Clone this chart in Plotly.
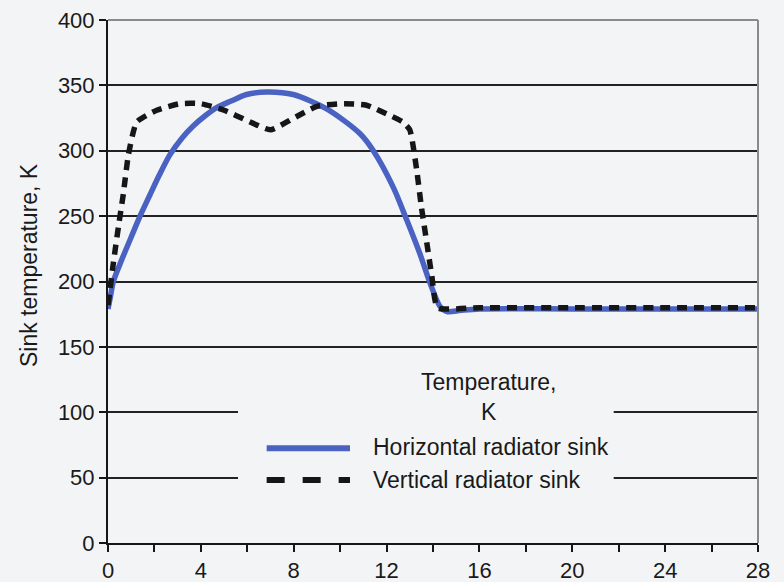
import plotly.graph_objects as go

# Data
horiz_x = [0, 0.1, 0.23, 0.6, 1.0, 1.38, 1.8, 2.2, 2.67, 3.2, 3.67, 4.2, 4.68, 5.3, 5.97, 6.84, 7.98, 9.42, 10.86, 11.43, 12.29, 12.87, 13.44, 13.87, 14.3, 14.6, 15.2, 16, 20, 24, 28]
horiz_y = [179, 188, 200, 217, 234, 250, 266, 281, 297, 310, 319, 327, 333, 338, 343, 345, 343, 332, 313, 300, 272, 247, 221, 199, 181, 177, 178, 179, 179, 179, 179]

vert_x = [0, 0.23, 0.45, 0.66, 0.88, 1.24, 2.1, 3.1, 4.0, 5.0, 6.0, 7.0, 8.0, 9.0, 10.1, 11.1, 12.15, 12.7, 13.0, 13.3, 13.5, 13.73, 13.95, 14.2, 16, 20, 24, 28]
vert_y = [182, 214, 242, 267, 297, 322, 331, 336, 336, 331, 323, 316, 325, 334, 336, 335, 327, 322, 316, 285, 257, 230, 204, 180, 180, 180, 180, 180]

x_ticks = [0, 4, 8, 12, 16, 20, 24, 28]
y_ticks = [0, 50, 100, 150, 200, 250, 300, 350, 400]

series_names = ["Horizontal radiator sink", "Vertical radiator sink"]
legend_title = ["Temperature,", "K"]
y_title = "Sink temperature, K"

BLUE = "#4a62c2"
BLACK = "#161616"
BG = "#f3f4f6"
TXT = "#1a1a1a"
FONT = "Arial, Liberation Sans, sans-serif"

fig = go.Figure()
fig.add_trace(go.Scatter(x=horiz_x, y=horiz_y, mode="lines", name=series_names[0],
                         line=dict(color=BLUE, width=5.5, shape="spline", smoothing=0.8)))
fig.add_trace(go.Scatter(x=vert_x, y=vert_y, mode="lines", name=series_names[1],
                         line=dict(color=BLACK, width=5.5, dash="10px,7px", shape="spline", smoothing=0.5)))

shapes = [
    # legend background masking gridlines
    dict(type="rect", xref="paper", yref="paper", x0=0.2, x1=0.778, y0=0.08, y1=0.345,
         fillcolor=BG, line=dict(width=0), layer="above"),
    # legend samples
    dict(type="line", xref="paper", yref="paper", x0=0.2441, x1=0.3723, y0=0.181, y1=0.181,
         line=dict(color=BLUE, width=6), layer="above"),
    dict(type="line", xref="paper", yref="paper", x0=0.2441, x1=0.3723, y0=0.1205, y1=0.1205,
         line=dict(color=BLACK, width=6, dash="18px,18px"), layer="above"),
    # grey frame top/right
    dict(type="line", xref="paper", yref="paper", x0=0, x1=1, y0=1, y1=1,
         line=dict(color="#8a8a8a", width=2), layer="above"),
    dict(type="line", xref="paper", yref="paper", x0=1, x1=1, y0=0, y1=1,
         line=dict(color="#8a8a8a", width=2), layer="above"),
]

annotations = [
    dict(text=legend_title[0], xref="paper", yref="paper", x=0.586, y=0.3069, showarrow=False,
         xanchor="center", yanchor="middle", font=dict(size=23, color=TXT, family=FONT)),
    dict(text=legend_title[1], xref="paper", yref="paper", x=0.586, y=0.2514, showarrow=False,
         xanchor="center", yanchor="middle", font=dict(size=23, color=TXT, family=FONT)),
    dict(text=series_names[0], xref="paper", yref="paper", x=0.4046, y=0.1836, showarrow=False,
         xanchor="left", yanchor="middle", font=dict(size=23, color=TXT, family=FONT)),
    dict(text=series_names[1], xref="paper", yref="paper", x=0.4046, y=0.1205, showarrow=False,
         xanchor="left", yanchor="middle", font=dict(size=23, color=TXT, family=FONT)),
    dict(text=y_title, xref="paper", yref="paper", x=-0.1215, y=0.5315, showarrow=False,
         textangle=-90, xanchor="center", yanchor="middle",
         font=dict(size=23, color=TXT, family=FONT)),
]

fig.update_layout(
    width=784, height=582,
    margin=dict(l=108, r=26, t=20, b=39, pad=0),
    paper_bgcolor=BG, plot_bgcolor=BG,
    showlegend=False,
    font=dict(family=FONT, size=22, color=TXT),
    shapes=shapes, annotations=annotations,
    xaxis=dict(range=[0, 28], tickvals=x_ticks, ticks="outside", ticklen=7, tickwidth=2,
               tickcolor=BLACK, showgrid=False, zeroline=False, showline=True,
               linecolor=BLACK, linewidth=2, automargin=False,
               minor=dict(dtick=2, ticks="outside", ticklen=7, tickwidth=2, tickcolor=BLACK, showgrid=False),
               tickfont=dict(size=22)),
    yaxis=dict(range=[0, 400], tickvals=y_ticks, ticks="outside", ticklen=7, tickwidth=2,
               tickcolor=BLACK, showgrid=True, gridcolor="#222222", gridwidth=2,
               zeroline=False, showline=True, linecolor=BLACK, linewidth=2, automargin=False,
               tickfont=dict(size=22)),
)

fig.write_html("out.html", config={"displayModeBar": False},
               post_script="document.body.style.margin='0';document.body.style.background='%s';" % BG)
